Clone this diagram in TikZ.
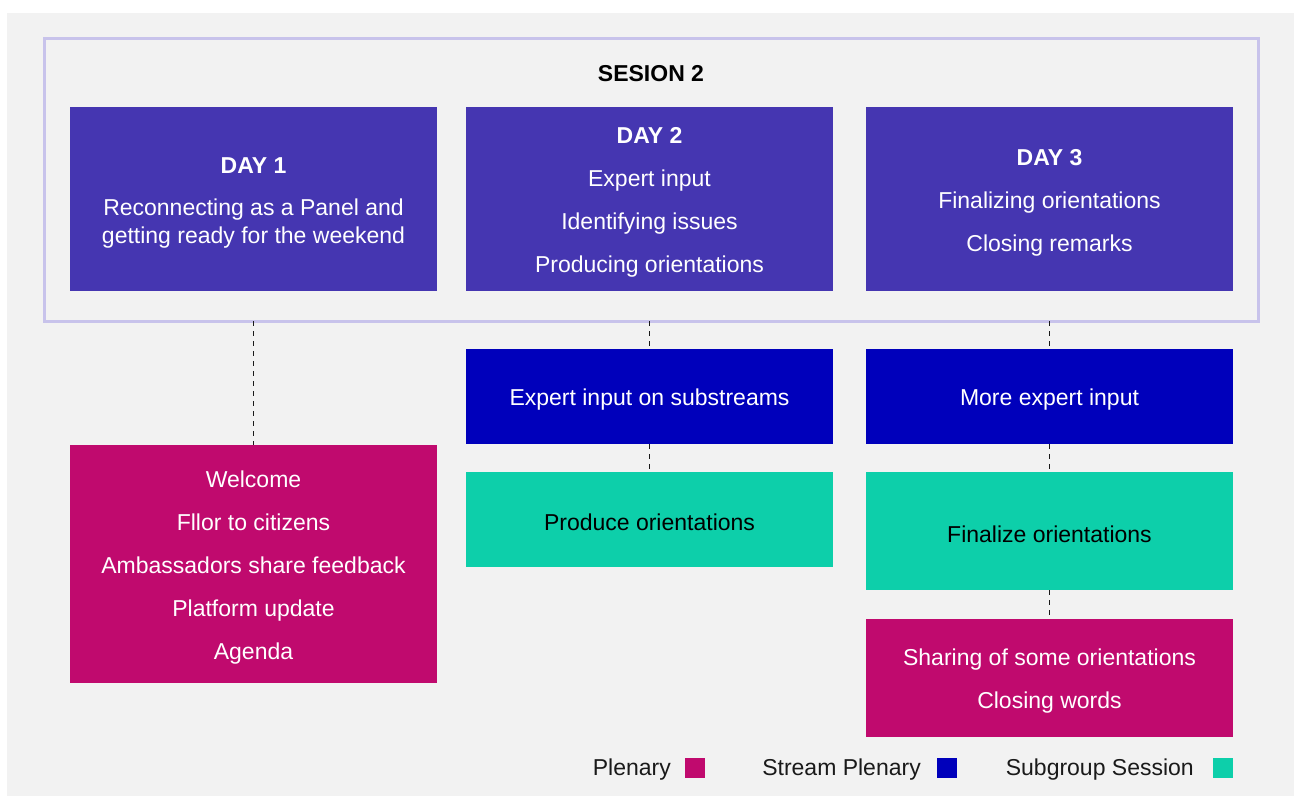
\documentclass[tikz,border=0pt]{standalone}
\usepackage{fontspec}
\setmainfont{Liberation Sans}
\definecolor{bgc}{HTML}{F2F2F2}
\definecolor{framec}{HTML}{C8C3EB}
\definecolor{purp}{HTML}{4536B1}
\definecolor{strm}{HTML}{0000BB}
\definecolor{teal}{HTML}{0DCFAA}
\definecolor{plen}{HTML}{C00A6E}
\definecolor{ink}{HTML}{1A1A1A}
\newcommand\tstrut{\rule{0pt}{23pt}}
\tikzset{
  blk/.style={rectangle, inner sep=0pt, outer sep=0pt, minimum width=367pt, align=center,
     text=white, font=\fontsize{23}{43}\selectfont},
  conn/.style={draw=ink, line width=1.3pt, dash pattern=on 5pt off 5pt},
  legtxt/.style={inner sep=0pt, anchor=base east, text=ink, font=\fontsize{23}{26}\selectfont},
  legsq/.style={rectangle, inner sep=0pt, outer sep=0pt, minimum size=20pt},
}
\begin{document}
\begin{tikzpicture}[x=1pt,y=-1pt]
\useasboundingbox (0,0) rectangle (1294,796);
\fill[bgc] (7,13) rectangle (1294,796);
\node[rectangle, draw=framec, line width=3pt, minimum width=1214pt, minimum height=283pt, inner sep=0pt, outer sep=0pt] (frame) at (651,179.5) {};
\node[font=\fontsize{23}{26}\selectfont\bfseries, text=black, anchor=base, inner sep=0pt] (title) at (651,81) {SESION 2};
% day boxes
\node[blk, fill=purp, minimum height=184pt] (d1) at (253.5,199) {\tstrut\textbf{DAY 1}\\[-1pt]Reconnecting as a Panel and\\[-15pt]getting ready for the weekend};
\node[blk, fill=purp, minimum height=184pt] (d2) at (649.5,199) {\tstrut\textbf{DAY 2}\\Expert input\\Identifying issues\\Producing orientations};
\node[blk, fill=purp, minimum height=184pt] (d3) at (1049.5,199) {\tstrut\textbf{DAY 3}\\Finalizing orientations\\Closing remarks};
% day 1 column
\node[blk, fill=plen, minimum height=238pt] (p1) at (253.5,564) {\tstrut Welcome\\Fllor to citizens\\Ambassadors share feedback\\Platform update\\Agenda};
% day 2 column
\node[blk, fill=strm, minimum height=95pt] (s2) at (649.5,396.5) {\tstrut Expert input on substreams};
\node[blk, fill=teal, minimum height=95pt, text=black] (g2) at (649.5,519.5) {\tstrut Produce orientations};
% day 3 column
\node[blk, fill=strm, minimum height=95pt] (s3) at (1049.5,396.5) {\tstrut More expert input};
\node[blk, fill=teal, minimum height=118pt, text=black] (g3) at (1049.5,531) {\tstrut Finalize orientations};
\node[blk, fill=plen, minimum height=118pt] (p3) at (1049.5,678) {\tstrut Sharing of some orientations\\Closing words};
% connectors
\draw[conn] (d1.south |- frame.south) -- (p1.north);
\draw[conn] (d2.south |- frame.south) -- (s2.north);
\draw[conn] (s2.south) -- (g2.north);
\draw[conn] (d3.south |- frame.south) -- (s3.north);
\draw[conn] (s3.south) -- (g3.north);
\draw[conn] (g3.south) -- (p3.north);
% legend
\node[legsq, fill=plen] (lq1) at (695,768) {};
\node[legtxt] (lt1) at (671,775) {Plenary};
\node[legsq, fill=strm] (lq2) at (947,768) {};
\node[legtxt] (lt2) at (921,775) {Stream Plenary};
\node[legsq, fill=teal] (lq3) at (1223,768) {};
\node[legtxt] (lt3) at (1194,775) {Subgroup Session};
\end{tikzpicture}
\end{document}
